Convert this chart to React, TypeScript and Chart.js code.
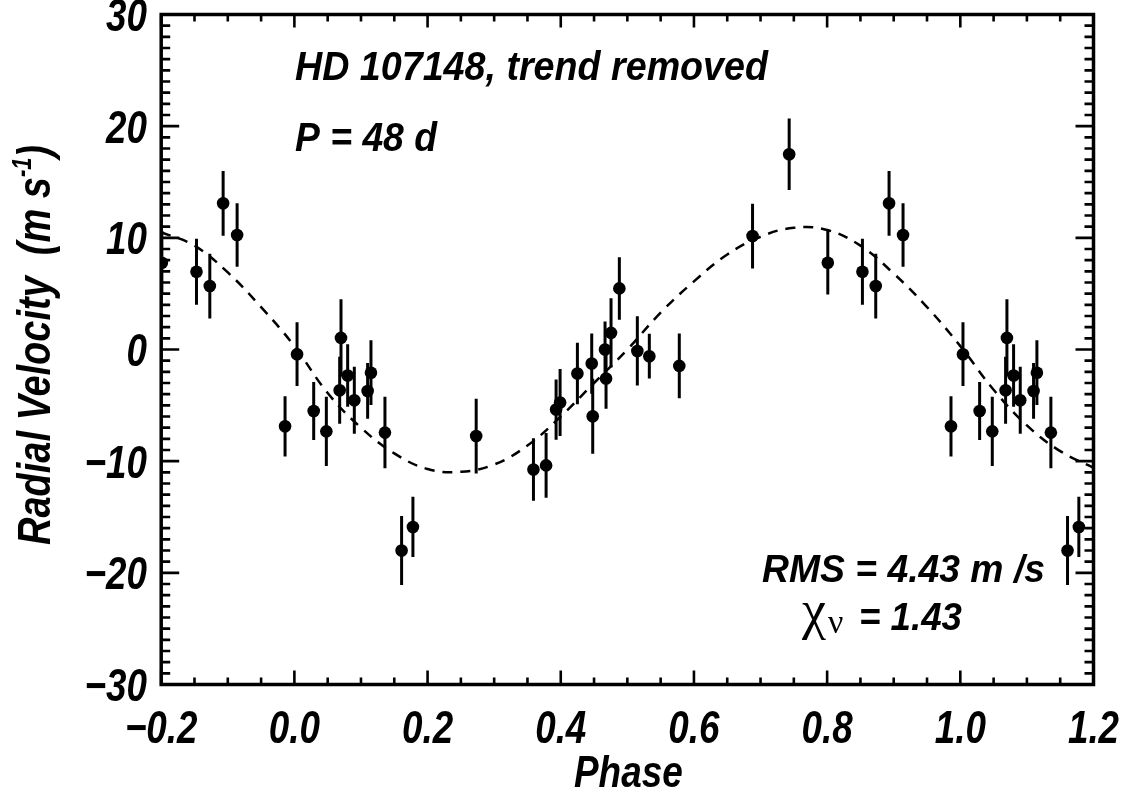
import React, { useEffect, useRef } from "react";
import { Chart, registerables } from "chart.js";

Chart.register(...registerables);

// ---- Data ----
// Base phases in [0,1); points in the displayed range -0.2..1.2 are repeated at phase +/- 1
const phases = [
  0.004, 0.029, 0.048, 0.068, 0.070, 0.080, 0.090, 0.110, 0.115, 0.136,
  0.161, 0.178, 0.273, 0.359, 0.378, 0.393, 0.399, 0.425, 0.4465, 0.448,
  0.4665, 0.468, 0.4755, 0.488, 0.515, 0.533, 0.578, 0.688, 0.743, 0.801,
  0.853, 0.873, 0.893, 0.914, 0.986,
];
const velocities = [
  -0.42, -5.51, -7.33, -3.65, 1.04, -2.33, -4.55, -3.71, -2.08, -7.44,
  -18.0, -15.89, -7.75, -10.74, -10.38, -5.38, -4.75, -2.15, -1.26, -5.98,
  0.0, -2.6, 1.49, 5.47, -0.13, -0.6, -1.47, 10.16, 17.49, 7.77,
  6.96, 5.68, 13.09, 10.25, -6.88,
];
const errors = [
  2.85, 2.6, 3.1, 3.0, 3.45, 2.8, 3.0, 2.5, 2.9, 3.2,
  3.1, 2.7, 3.35, 2.8, 2.9, 2.7, 3.0, 2.75, 2.7, 3.35,
  2.5, 2.7, 3.1, 2.8, 3.1, 2.0, 2.9, 2.9, 3.2, 2.85,
  2.96, 2.9, 2.9, 2.85, 2.7,
];

// Dashed model curve
const modelPhase = [
  -0.2, -0.15, -0.1, -0.05, 0.0, 0.05, 0.1, 0.15, 0.2, 0.25, 0.3, 0.35, 0.4, 0.45,
  0.5, 0.55, 0.6, 0.65, 0.7, 0.75, 0.8, 0.85, 0.9, 0.95, 1.0, 1.05, 1.1, 1.15, 1.2,
];
const modelVelocity = [
  10.5, 9.3, 6.9, 3.8, 0.3, -3.9, -7.0, -9.3, -10.7, -10.95, -10.3, -8.6, -6.0, -3.0,
  0.0, 3.3, 6.1, 8.5, 10.1, 10.9, 10.7, 9.3, 6.8, 3.8, 0.3, -3.6, -6.8, -9.1, -10.6,
];

const xTicks = [-0.2, 0.0, 0.2, 0.4, 0.6, 0.8, 1.0, 1.2];
const xTickLabels = ["\u22120.2", "0.0", "0.2", "0.4", "0.6", "0.8", "1.0", "1.2"];
const yTicks = [-30, -20, -10, 0, 10, 20, 30];
const yTickLabels = ["\u221230", "\u221220", "\u221210", "0", "10", "20", "30"];

const X_MIN = -0.2;
const X_MAX = 1.2;
const Y_MIN = -30;
const Y_MAX = 30;
const X_MINOR_STEP = 0.05;
const Y_MINOR_STEP = 1;

const SANS = '"Liberation Sans", Arial, Helvetica, sans-serif';
const SERIF = '"Liberation Serif", "Times New Roman", serif';
const bi = (s: number) => `italic bold ${s}px ${SANS}`;

type Pt = { x: number; y: number; e: number };

function foldedPoints(): Pt[] {
  const out: Pt[] = [];
  phases.forEach((p, i) => {
    [p - 1, p, p + 1].forEach((q) => {
      if (q >= X_MIN - 1e-9 && q <= X_MAX + 1e-9) out.push({ x: q, y: velocities[i], e: errors[i] });
    });
  });
  return out;
}

function drawSqueezed(
  ctx: CanvasRenderingContext2D,
  text: string,
  x: number,
  y: number,
  font: string,
  sx: number,
  align: CanvasTextAlign
) {
  ctx.save();
  ctx.font = font;
  ctx.textAlign = align;
  ctx.textBaseline = "alphabetic";
  ctx.translate(x, y);
  ctx.scale(sx, 1);
  ctx.fillText(text, 0, 0);
  ctx.restore();
}

function drawFit(
  ctx: CanvasRenderingContext2D,
  text: string,
  x: number,
  y: number,
  font: string,
  width: number,
  align: CanvasTextAlign
) {
  ctx.save();
  ctx.font = font;
  const w = ctx.measureText(text).width;
  ctx.restore();
  drawSqueezed(ctx, text, x, y, font, width / w, align);
}

const errorBarPlugin = {
  id: "errorBars",
  beforeDatasetsDraw(chart: any) {
    const { ctx, chartArea, scales } = chart;
    const pts: Pt[] = chart.$pts || [];
    ctx.save();
    ctx.beginPath();
    ctx.rect(chartArea.left, chartArea.top, chartArea.right - chartArea.left, chartArea.bottom - chartArea.top);
    ctx.clip();
    ctx.strokeStyle = "#000";
    ctx.lineWidth = 3;
    ctx.lineCap = "butt";
    pts.forEach((p) => {
      const px = scales.x.getPixelForValue(p.x);
      ctx.beginPath();
      ctx.moveTo(px, scales.y.getPixelForValue(p.y - p.e));
      ctx.lineTo(px, scales.y.getPixelForValue(p.y + p.e));
      ctx.stroke();
    });
    ctx.restore();
  },
};

const framePlugin = {
  id: "frame",
  afterDraw(chart: any) {
    const { ctx, chartArea: a, scales } = chart;
    const xs = scales.x;
    const ys = scales.y;
    ctx.save();
    ctx.strokeStyle = "#000";
    ctx.fillStyle = "#000";

    // ticks
    ctx.lineWidth = 2.6;
    const tickX = (v: number, major: boolean) => {
      const px = xs.getPixelForValue(v);
      const lb = major ? 14 : 7;
      const lt = major ? 13 : 7;
      ctx.beginPath();
      ctx.moveTo(px, a.bottom);
      ctx.lineTo(px, a.bottom - lb);
      ctx.moveTo(px, a.top);
      ctx.lineTo(px, a.top + lt);
      ctx.stroke();
    };
    const tickY = (v: number, major: boolean) => {
      const py = ys.getPixelForValue(v);
      const l = major ? 18 : 9;
      ctx.beginPath();
      ctx.moveTo(a.left, py);
      ctx.lineTo(a.left + l, py);
      ctx.moveTo(a.right, py);
      ctx.lineTo(a.right - l, py);
      ctx.stroke();
    };
    const nx = Math.round((X_MAX - X_MIN) / X_MINOR_STEP);
    for (let i = 0; i <= nx; i++) {
      const v = X_MIN + i * X_MINOR_STEP;
      tickX(v, i % 4 === 0);
    }
    const ny = Math.round((Y_MAX - Y_MIN) / Y_MINOR_STEP);
    for (let i = 0; i <= ny; i++) {
      const v = Y_MIN + i * Y_MINOR_STEP;
      tickY(v, i % 10 === 0);
    }

    // frame
    ctx.lineWidth = 3.5;
    ctx.strokeRect(a.left, a.top, a.right - a.left, a.bottom - a.top);

    // tick labels
    xTicks.forEach((v, i) => {
      drawSqueezed(ctx, xTickLabels[i], xs.getPixelForValue(v), 743, bi(46), 0.8, "center");
    });
    yTicks.forEach((v, i) => {
      drawSqueezed(ctx, yTickLabels[i], 147, ys.getPixelForValue(v) + 16.5, bi(46), 0.8, "right");
    });

    // x title
    drawSqueezed(ctx, "Phase", (a.left + a.right) / 2 + 1, 787, bi(45), 0.82, "center");

    // y title (rotated, with superscript)
    const parts = [
      { t: "Radial Velocity  (m s", s: 47, dy: 0 },
      { t: "-1", s: 27, dy: -19 },
      { t: ")", s: 47, dy: 0 },
    ];
    ctx.save();
    let total = 0;
    const widths = parts.map((p) => {
      ctx.font = bi(p.s);
      const w = ctx.measureText(p.t).width;
      total += w;
      return w;
    });
    const target = 400;
    const k = target / total;
    ctx.translate(50, 345 + target / 2);
    ctx.rotate(-Math.PI / 2);
    ctx.scale(k, 1);
    ctx.textAlign = "left";
    ctx.textBaseline = "alphabetic";
    let cx = 0;
    parts.forEach((p, i) => {
      ctx.font = bi(p.s);
      ctx.fillText(p.t, cx, p.dy);
      cx += widths[i];
    });
    ctx.restore();

    // annotations
    drawFit(ctx, "HD 107148, trend removed", 295, 79.5, bi(40), 473, "left");
    drawFit(ctx, "P = 48 d", 295, 151, bi(40), 142, "left");
    drawFit(ctx, "RMS = 4.43 m /s", 1045, 582, bi(39), 283, "right");

    // chi_nu = 1.43
    ctx.save();
    ctx.textAlign = "left";
    ctx.textBaseline = "alphabetic";
    ctx.font = `54px ${SERIF}`;
    ctx.fillText("\u03C7", 802, 628);
    ctx.font = `34px ${SERIF}`;
    ctx.fillText("\u03BD", 828, 633);
    ctx.restore();
    drawFit(ctx, "= 1.43", 859, 630, bi(39), 103, "left");

    ctx.restore();
  },
};

export default function App() {
  const ref = useRef<HTMLCanvasElement | null>(null);

  useEffect(() => {
    if (!ref.current) return;
    const pts = foldedPoints();
    const chart: any = new Chart(ref.current, {
      type: "scatter",
      data: {
        datasets: [
          {
            label: "model",
            data: modelPhase.map((p, i) => ({ x: p, y: modelVelocity[i] })),
            showLine: true,
            borderColor: "#000",
            borderWidth: 2.5,
            borderDash: [10, 8],
            tension: 0.4,
            pointRadius: 0,
            fill: false,
          },
          {
            label: "data",
            data: pts.map((p) => ({ x: p.x, y: p.y })),
            pointRadius: 6.3,
            pointBackgroundColor: "#000",
            pointBorderColor: "#000",
            pointBorderWidth: 0,
            showLine: false,
          },
        ],
      },
      options: {
        responsive: false,
        animation: false,
        layout: { padding: { left: 0, right: 39.5, top: 14.5, bottom: 0 } },
        plugins: { legend: { display: false }, tooltip: { enabled: false } },
        scales: {
          x: {
            type: "linear",
            min: X_MIN,
            max: X_MAX,
            grid: { display: false },
            border: { display: false },
            ticks: { display: false },
            afterFit: (s: any) => {
              s.height = 117.5;
            },
          },
          y: {
            type: "linear",
            min: Y_MIN,
            max: Y_MAX,
            grid: { display: false },
            border: { display: false },
            ticks: { display: false },
            afterFit: (s: any) => {
              s.width = 161.2;
            },
          },
        },
      },
      plugins: [errorBarPlugin, framePlugin],
    });
    chart.$pts = pts;
    chart.draw();
    return () => chart.destroy();
  }, []);

  return (
    <div style={{ position: "absolute", left: 0, top: 0, width: 1133, height: 802, background: "#fff" }}>
      <canvas ref={ref} width={1133} height={802} style={{ display: "block" }} />
    </div>
  );
}
